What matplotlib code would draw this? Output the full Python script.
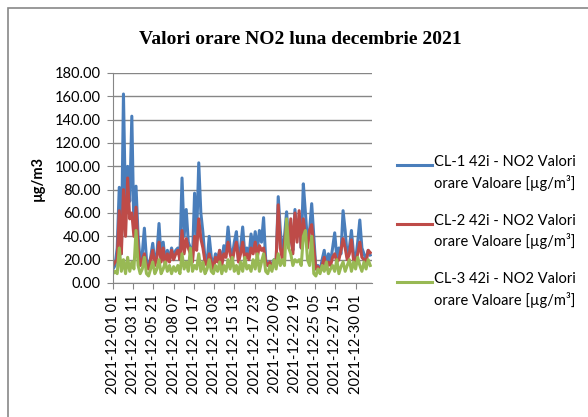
import matplotlib
matplotlib.use("Agg")
import matplotlib.pyplot as plt
from matplotlib.lines import Line2D
from matplotlib.patches import Rectangle
from matplotlib.transforms import ScaledTranslation
import numpy as np

# 6-hourly readings (µg/m³), starting 2021-12-01 01
cl1 = [12, 15, 30, 82, 25, 162, 60, 100, 70, 143, 45, 83, 40, 18, 25, 47, 20, 14, 22, 34,
       18, 25, 51, 22, 35, 18, 28, 20, 30, 22, 28, 30, 25, 90, 40, 63, 35, 30, 20, 77,
       40, 103, 60, 43, 20, 18, 40, 22, 15, 25, 20, 28, 18, 32, 25, 48, 30, 22, 35, 44,
       20, 30, 48, 25, 30, 22, 42, 30, 44, 28, 45, 35, 56, 20, 15, 18, 15, 20, 18, 74,
       45, 25, 40, 61, 35, 40, 28, 63, 40, 55, 30, 85, 60, 35, 45, 68, 40, 12, 15, 10,
       20, 28, 15, 25, 18, 30, 43, 22, 30, 25, 62, 45, 22, 30, 45, 25, 20, 35, 54, 30,
       25, 20, 28, 24]
cl2 = [15, 18, 20, 62, 25, 80, 40, 90, 55, 60, 40, 65, 30, 15, 20, 25, 15, 12, 20, 28,
       15, 22, 35, 18, 30, 15, 25, 18, 28, 20, 25, 28, 20, 45, 25, 38, 30, 25, 18, 40,
       28, 55, 38, 30, 18, 15, 25, 18, 12, 22, 18, 28, 15, 25, 22, 35, 25, 18, 28, 35,
       18, 25, 35, 20, 25, 20, 30, 25, 35, 22, 32, 28, 30, 18, 15, 18, 12, 18, 20, 67,
       30, 20, 35, 50, 30, 55, 25, 60, 35, 62, 30, 55, 40, 30, 45, 50, 30, 12, 14, 10,
       15, 22, 12, 18, 15, 22, 25, 18, 20, 28, 38, 30, 20, 25, 37, 20, 18, 25, 35, 22,
       20, 18, 28, 26]
cl3 = [8, 10, 8, 30, 10, 20, 8, 22, 10, 18, 12, 45, 15, 8, 12, 22, 8, 6, 12, 18,
       8, 12, 20, 8, 12, 18, 10, 15, 8, 14, 10, 15, 8, 25, 12, 18, 10, 30, 10, 15,
       12, 25, 10, 18, 8, 12, 20, 10, 8, 15, 10, 18, 8, 15, 10, 20, 12, 22, 10, 15,
       8, 18, 10, 22, 12, 15, 10, 20, 12, 25, 10, 18, 25, 10, 8, 15, 10, 20, 12, 25,
       15, 20, 15, 55, 30, 25, 15, 20, 18, 20, 15, 40, 45, 20, 15, 40, 8, 6, 12, 8,
       15, 10, 18, 8, 12, 15, 10, 20, 8, 14, 18, 10, 15, 20, 10, 18, 12, 22, 15, 10,
       18, 12, 20, 15]
step_hours = 6
n_hours = 744

tick_labels = ["2021-12-01 01", "2021-12-03 11", "2021-12-05 21", "2021-12-08 07",
               "2021-12-10 17", "2021-12-13 03", "2021-12-15 13", "2021-12-17 23",
               "2021-12-20 09", "2021-12-22 19", "2021-12-25 05", "2021-12-27 15",
               "2021-12-30 01"]
tick_every = 58

series_names = ["CL-1 42i - NO2 Valori\norare Valoare [µg/m³]",
                "CL-2 42i - NO2 Valori\norare Valoare [µg/m³]",
                "CL-3 42i - NO2 Valori\norare Valoare [µg/m³]"]
colors = ["#4A7EBB", "#BE4B48", "#98B954"]

W, H = 588, 417
fig = plt.figure(figsize=(W / 100, H / 100), dpi=100)
fig.patch.set_facecolor("white")

# outer chart border
fig.patches.append(Rectangle((8 / W, -0.1), 1.2, 0.1 + 1 - 8 / H, transform=fig.transFigure,
                             fill=False, edgecolor="#878787", linewidth=1.2))

ax = fig.add_axes([113 / W, 1 - 283 / H, (372 - 113) / W, (283 - 73) / H])
font = "Lato"

for vals, c in zip([cl1, cl2, cl3], colors):
    x = np.arange(len(vals)) * step_hours
    ax.plot(x, vals, color=c, linewidth=2.2, solid_joinstyle="round")

ax.set_xlim(0, n_hours - 1)
ax.set_ylim(0, 180)
ax.set_yticks(np.arange(0, 181, 20))
ax.set_yticklabels([f"{v:.2f}" for v in np.arange(0, 181, 20)], fontsize=10.5,
                   fontfamily=font)
ax.set_xticks(np.arange(len(tick_labels)) * tick_every)
ax.set_xticklabels(tick_labels, rotation=90, fontsize=10.5, fontfamily=font)
shift = ScaledTranslation(-5 / 100, 0, fig.dpi_scale_trans)
for lab in ax.get_xticklabels():
    lab.set_transform(lab.get_transform() + shift)
ax.tick_params(axis="y", length=4, color="#868686", pad=5)
ax.tick_params(axis="x", length=4, color="#868686", pad=4)
ax.grid(axis="y", color="#868686", linewidth=1)
ax.set_axisbelow(True)
for s in ["top", "right"]:
    ax.spines[s].set_visible(False)
for s in ["left", "bottom"]:
    ax.spines[s].set_color("#868686")

fig.text(38 / W, 1 - 178 / H, "µg/m3", rotation=90, ha="center", va="center",
         fontsize=10.5, fontweight="bold", fontfamily=font)
fig.text(300 / W, 1 - 40 / H, "Valori orare NO2 luna decembrie 2021", ha="center",
         va="center", fontsize=14, fontweight="bold", fontfamily="Liberation Serif")

# legend
for k, (name, c) in enumerate(zip(series_names, colors)):
    y = 165 + k * 58.5
    fig.add_artist(Line2D([397 / W, 432 / W], [1 - y / H, 1 - y / H], color=c,
                          linewidth=2.2, transform=fig.transFigure))
    fig.text(434 / W, 1 - (y - 10) / H, name, ha="left", va="top", fontsize=10.5,
             fontfamily=font, linespacing=1.45)

fig.savefig("out.png", dpi=100)
